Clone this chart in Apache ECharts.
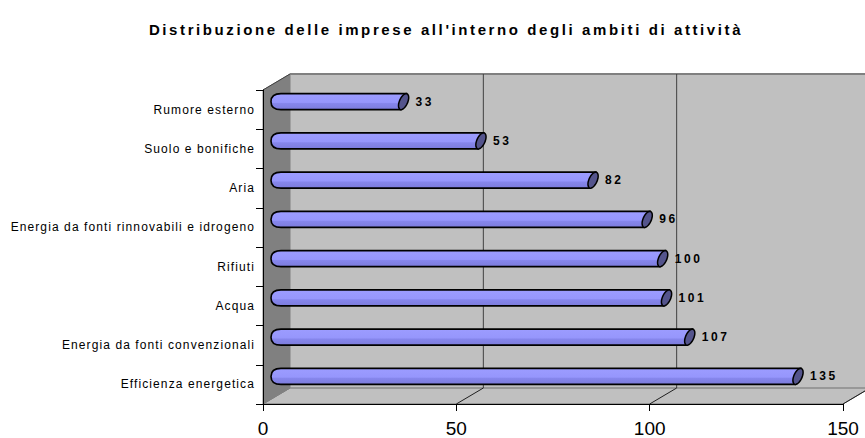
<!DOCTYPE html>
<html>
<head>
<meta charset="utf-8">
<script src="https://cdn.jsdelivr.net/npm/echarts@6/dist/echarts.min.js"></script>
<style>html,body{margin:0;padding:0;background:#fff}#c{width:865px;height:438px}</style>
</head>
<body>
<div id="c"></div>
<script>
const categories = ["Rumore esterno", "Suolo e bonifiche", "Aria", "Energia da fonti rinnovabili e idrogeno", "Rifiuti", "Acqua", "Energia da fonti convenzionali", "Efficienza energetica"];
const values = [33, 53, 82, 96, 100, 101, 107, 135];
const xTicks = [0, 50, 100, 150];
const titleText = "Distribuzione delle imprese all'interno degli ambiti di attività";

const FONT = '"Liberation Sans", Arial, sans-serif';
const DX = 27, DY = -16;     // depth of back wall
const BX = 13, BY = -8;      // bar depth (middle)
const BAR_H = 16;

const chart = echarts.init(document.getElementById('c'), null, {renderer: 'svg'});

function renderWalls(params, api) {
  const n = categories.length;
  const p0 = api.coord([0, 0]);
  const band = api.size([0, 1])[1];
  const bandTop = p0[1] - band / 2;
  const bandBot = bandTop + band * n;
  const x0 = p0[0];
  const xMax = api.coord([xTicks[xTicks.length - 1], 0])[0];
  const children = [];
  children.push({type: 'rect', shape: {x: x0 + DX, y: bandTop + DY, width: xMax - x0, height: bandBot - bandTop},
    style: {fill: '#c0c0c0', stroke: null}});
  children.push({type: 'polygon', shape: {points: [[x0, bandBot], [x0 + DX, bandBot + DY], [xMax + DX, bandBot + DY], [xMax, bandBot]]},
    style: {fill: '#c0c0c0', stroke: '#707070', lineWidth: 1}});
  children.push({type: 'polygon', shape: {points: [[x0, bandTop], [x0 + DX, bandTop + DY], [x0 + DX, bandBot + DY], [x0, bandBot]]},
    style: {fill: '#808080', stroke: '#808080', lineWidth: 1}});
  children.push({type: 'line', shape: {x1: x0, y1: bandTop, x2: x0 + DX, y2: bandTop + DY}, style: {stroke: '#404040', lineWidth: 1}});
  children.push({type: 'line', shape: {x1: x0 + DX, y1: bandTop + DY, x2: xMax + DX, y2: bandTop + DY}, style: {stroke: '#808080', lineWidth: 2}});
  xTicks.forEach(function (t, i) {
    if (i === 0) return;
    const x = api.coord([t, 0])[0];
    children.push({type: 'line', shape: {x1: x + DX, y1: bandTop + DY, x2: x + DX, y2: bandBot + DY}, style: {stroke: '#404040', lineWidth: 1}});
    children.push({type: 'line', shape: {x1: x, y1: bandBot, x2: x + DX, y2: bandBot + DY}, style: {stroke: '#202020', lineWidth: 1}});
  });
  return {type: 'group', children: children};
}

function renderBar(params, api) {
  const cat = api.value(0);
  const val = api.value(1);
  const s = api.coord([0, cat]);
  const e = api.coord([val, cat]);
  const xs = s[0] + BX, xe = e[0] + BX, cy = s[1] + BY;
  const r = BAR_H / 2;
  const rx = 5, shear = 2.6, a = 4.4;
  const top = cy - r, bot = cy + r;
  const body = 'M' + (xe + shear) + ' ' + top + ' L' + (xs + rx) + ' ' + top +
    ' Q' + (xs - rx) + ' ' + top + ' ' + (xs - rx) + ' ' + cy +
    ' Q' + (xs - rx) + ' ' + bot + ' ' + (xs + rx) + ' ' + bot +
    ' L' + (xe - shear) + ' ' + bot + ' Z';
  const capPts = [];
  for (let k = 0; k < 32; k++) {
    const t = k / 32 * Math.PI * 2;
    capPts.push([xe + a * Math.cos(t) - shear * Math.sin(t), cy + r * Math.sin(t)]);
  }
  return {
    type: 'group',
    children: [
      {type: 'path', shape: {pathData: body},
        style: {fill: new echarts.graphic.LinearGradient(0, 0, 0, 1, [
          {offset: 0, color: '#9c9cff'}, {offset: 0.55, color: '#9696fc'},
          {offset: 0.62, color: '#8686ec'}, {offset: 1, color: '#7c7cdc'}]),
          stroke: '#000', lineWidth: 1.6}},
      {type: 'polygon', shape: {points: capPts},
        style: {fill: '#54548c', stroke: '#000', lineWidth: 1.5}},
      {type: 'text', x: xe + 12, y: cy,
        style: {text: String(val), fill: '#000', font: 'bold 12px ' + FONT,
          textVerticalAlign: 'middle', textAlign: 'left'}}
    ]
  };
}

const option = {
  animation: false,
  backgroundColor: '#fff',
  title: {text: titleText, left: 441, textAlign: 'center', top: 17,
    textStyle: {fontFamily: FONT, fontSize: 15, fontWeight: 'bold', color: '#000'}},
  grid: {left: 263, right: 22, top: 90, bottom: 32, containLabel: false},
  xAxis: {type: 'value', min: 0, max: 150, interval: 50, z: 10,
    axisLine: {show: true, lineStyle: {color: '#000', width: 1}},
    axisTick: {show: true, length: 7, lineStyle: {color: '#000'}},
    axisLabel: {fontFamily: FONT, fontSize: 19, color: '#000', margin: 15},
    splitLine: {show: false}},
  yAxis: {type: 'category', data: categories, inverse: true, z: 10,
    axisLine: {show: true, lineStyle: {color: '#000', width: 1}},
    axisTick: {show: true, length: 7, lineStyle: {color: '#000'}},
    axisLabel: {fontFamily: FONT, fontSize: 12, color: '#000', margin: 8},
    splitLine: {show: false}},
  series: [
    {type: 'custom', z: 1, silent: true, renderItem: renderWalls, data: [[0, 0]], clip: false},
    {type: 'custom', z: 5, silent: true, renderItem: renderBar, clip: false,
      data: values.map(function (v, i) { return [i, v]; }),
      encode: {y: 0, x: 1}}
  ]
};
chart.setOption(option);

function spaceText() {
  const valueStrs = values.map(String);
  document.querySelectorAll('#c svg text').forEach(function (el) {
    const t = el.textContent;
    const bold = parseInt(getComputedStyle(el).fontWeight, 10) >= 600;
    if (t === titleText) el.style.letterSpacing = '2.6px';
    else if (categories.indexOf(t) >= 0) el.style.letterSpacing = '1.1px';
    else if (bold && valueStrs.indexOf(t) >= 0) el.style.letterSpacing = '2.6px';
  });
}
spaceText();
chart.on('finished', spaceText);
</script>
</body>
</html>
